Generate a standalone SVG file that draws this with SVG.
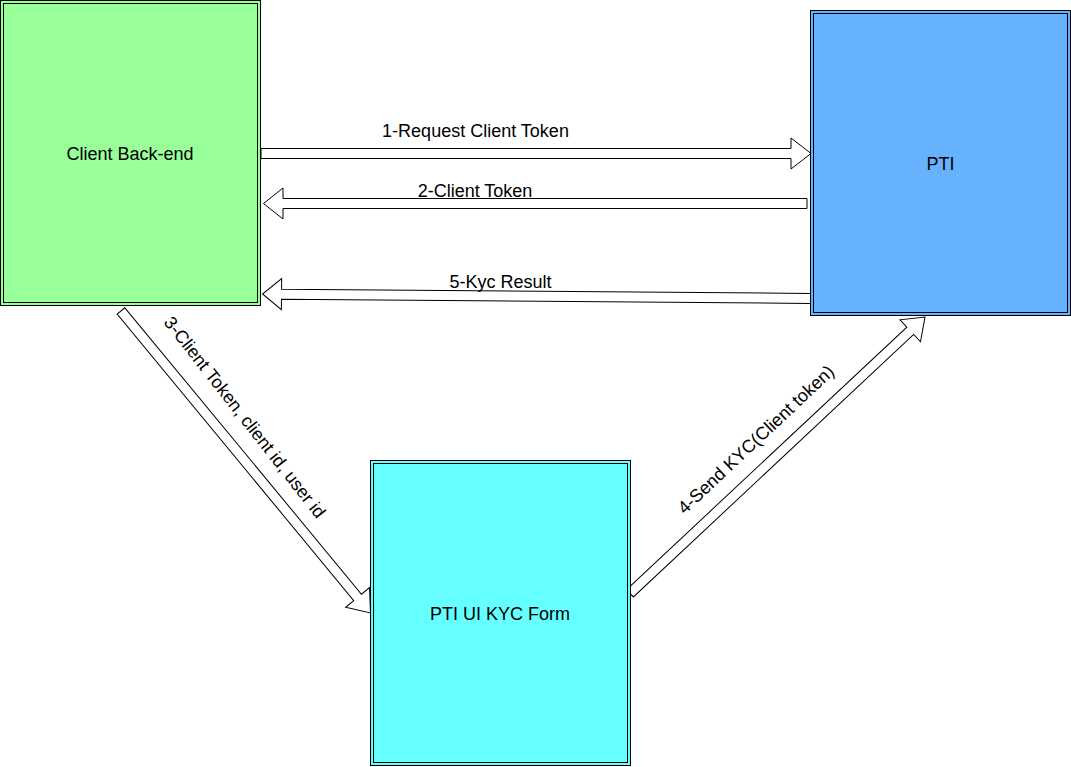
<svg xmlns="http://www.w3.org/2000/svg" width="1071" height="767" viewBox="0 0 1071 767">
<style>
.arrow{fill:#ffffff;stroke:#000000;stroke-width:1;stroke-linejoin:miter}
.box{stroke:#000000;stroke-width:1}
.inner{fill:none;stroke:#000000;stroke-width:1}
.t{font-family:"Liberation Sans",Arial,Helvetica,sans-serif;font-size:18px;fill:#000000;text-anchor:middle}
</style>
<rect x="0" y="0" width="1071" height="767" fill="#ffffff"/>
<g id="connectors">
  <g id="edge1">
    <polygon class="arrow" transform="translate(261,153.5)" points="0,-5 530,-5 530,-15.5 550,0 530,15.5 530,5 0,5"/>
    <text class="t" x="475.5" y="136.5">1-Request Client Token</text>
  </g>
  <g id="edge2">
    <polygon class="arrow" transform="translate(807,203.5) rotate(180)" points="0,-5 524,-5 524,-15.5 543.5,0 524,15.5 524,5 0,5"/>
    <text class="t" x="475" y="196.5">2-Client Token</text>
  </g>
  <g id="edge5">
    <polygon class="arrow" transform="translate(811,298.5) rotate(180.47)" points="0,-5 529.5,-5 529.5,-15.5 548.5,0 529.5,15.5 529.5,5 0,5"/>
    <text class="t" x="500.5" y="287.5">5-Kyc Result</text>
  </g>
  <g id="edge3">
    <polygon class="arrow" transform="translate(121,311) rotate(50.44)" points="0,-5 371.5,-5 371.5,-15.5 391.7,0 371.5,15.5 371.5,5 0,5"/>
    <text class="t" transform="translate(240,421) rotate(52)">3-Client Token, client id, user id</text>
  </g>
  <g id="edge4">
    <polygon class="arrow" transform="translate(630,593.3) rotate(-43.13)" points="0,-5 384,-5 384,-15 404.2,0 384,15 384,5 0,5"/>
    <text class="t" transform="translate(760,444) rotate(-43.3)">4-Send KYC(Client token)</text>
  </g>
</g>
<g id="client-backend">
  <rect class="box" x="0.5" y="0.5" width="260" height="305" fill="#99FF99"/>
  <rect class="inner" x="3.5" y="3.5" width="254" height="299"/>
  <text class="t" x="130" y="160">Client Back-end</text>
</g>
<g id="pti">
  <rect class="box" x="810.5" y="10.5" width="260" height="305" fill="#66B2FF"/>
  <rect class="inner" x="813.5" y="13.5" width="254" height="299"/>
  <text class="t" x="940.5" y="169.5">PTI</text>
</g>
<g id="pti-ui-kyc-form">
  <rect class="box" x="370.5" y="460.5" width="260" height="305" fill="#66FFFF"/>
  <rect class="inner" x="373.5" y="463.5" width="254" height="299"/>
  <text class="t" x="500" y="620">PTI UI KYC Form</text>
</g>
</svg>
